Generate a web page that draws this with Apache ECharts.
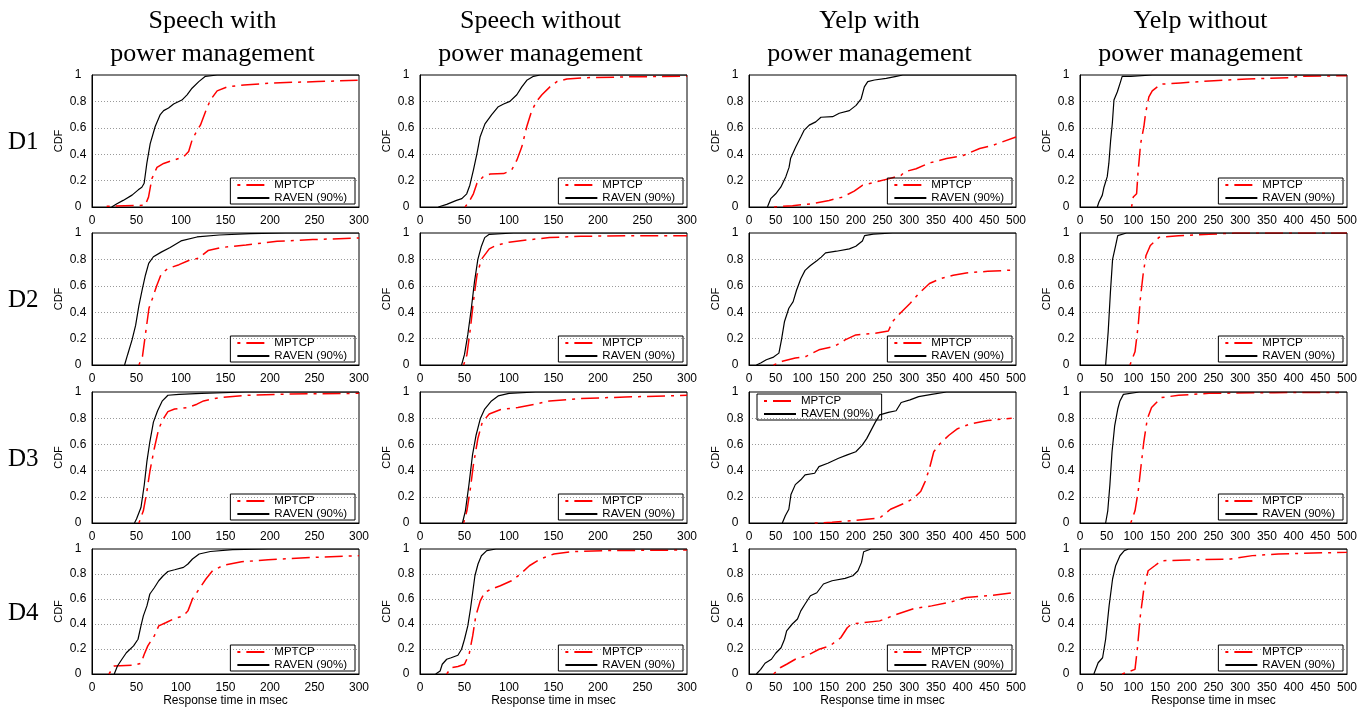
<!DOCTYPE html>
<html><head><meta charset="utf-8">
<script src="https://cdn.jsdelivr.net/npm/echarts@6/dist/echarts.min.js"></script>
<style>html,body{margin:0;padding:0;background:#fff}#c{width:1368px;height:708px}</style>
</head><body><div id="c"></div><script>
// ---- categories / labels ----
const colTitles = ['Speech with\npower management', 'Speech without\npower management', 'Yelp with\npower management', 'Yelp without\npower management'];
const rowLabels = ['D1', 'D2', 'D3', 'D4'];
const seriesNames = ['MPTCP', 'RAVEN (90%)'];
const xMax = [300, 300, 500, 500];
const xTickStep = 50;
const yTickStep = 0.2;
const xAxisTitle = 'Response time in msec';
const yAxisTitle = 'CDF';

// ---- data: [response time (ms), CDF] ----
// Speech with power management
const spD1_mptcp = [[16.5,0.005],[59.8,0.013],[63.5,0.075],[67.3,0.215],[73,0.30],[80.5,0.33],[91.7,0.355],[103,0.38],[108.6,0.42],[112.4,0.506],[118,0.58],[121.8,0.62],[127.4,0.72],[133,0.81],[140.6,0.88],[151.9,0.91],[170.7,0.925],[204.5,0.94],[253.4,0.95],[298.5,0.96]];
const spD1_raven = [[22,0],[28,0.025],[35,0.05],[45,0.09],[52,0.13],[56,0.15],[58.6,0.18],[61.6,0.33],[65.4,0.48],[71,0.61],[76.7,0.70],[80.5,0.73],[86,0.75],[91.7,0.78],[101,0.81],[106.8,0.85],[112.4,0.90],[120,0.95],[127.4,0.99],[140.6,1],[300,1]];
const spD2_mptcp = [[52.7,0],[56.7,0.065],[60,0.23],[64,0.43],[67.7,0.50],[72.7,0.60],[77.8,0.69],[85,0.73],[97.8,0.76],[108,0.79],[120,0.81],[125.4,0.84],[130.4,0.867],[145.5,0.89],[173,0.91],[208,0.937],[248,0.95],[300,0.962]];
const spD2_raven = [[36.6,0],[40,0.078],[45,0.19],[49,0.30],[52.7,0.45],[56.7,0.58],[60,0.68],[63.7,0.77],[69,0.82],[77.8,0.855],[87.8,0.89],[100,0.94],[118,0.97],[143,0.985],[178,0.995],[218,1],[300,1]];
const spD3_mptcp = [[52.7,0],[57.7,0.093],[61.7,0.243],[65,0.393],[70,0.569],[75,0.72],[80,0.794],[85.3,0.85],[92.8,0.87],[107.8,0.882],[117.9,0.907],[125.4,0.932],[143,0.957],[173,0.975],[223,0.985],[300,0.99]];
const spD3_raven = [[47.7,0],[50,0.03],[55,0.118],[58.7,0.29],[61.7,0.47],[65,0.62],[69,0.77],[73.7,0.857],[78.8,0.93],[85.3,0.975],[97.8,0.982],[123,0.99],[173,1],[300,1]];
const spD4_mptcp = [[19,0],[25,0.064],[47.7,0.07],[55,0.086],[58.7,0.158],[62.7,0.225],[70,0.305],[75,0.385],[82.8,0.41],[92.8,0.444],[102.8,0.465],[107.8,0.505],[112.9,0.60],[120.4,0.68],[128,0.76],[135.4,0.826],[148,0.87],[168,0.898],[198,0.914],[248,0.933],[300,0.947]];
const spD4_raven = [[25,0],[28.6,0.064],[33.6,0.118],[38.6,0.17],[46.7,0.225],[51.7,0.278],[55,0.385],[57.7,0.465],[61.7,0.545],[65,0.64],[70,0.69],[75,0.746],[80,0.786],[85.3,0.82],[92.8,0.834],[102.8,0.853],[107.8,0.88],[112.9,0.92],[120.4,0.96],[133,0.98],[158,0.995],[198,1],[300,1]];
// Speech without power management
const snD1_mptcp = [[50.6,0],[56,0.05],[60,0.10],[64,0.18],[71,0.23],[79,0.25],[94,0.253],[103,0.28],[108.8,0.355],[114.4,0.456],[120,0.61],[125.6,0.73],[131,0.80],[137,0.85],[146,0.91],[153.8,0.95],[165,0.97],[187.5,0.98],[243.8,0.987],[300,0.99]];
const snD1_raven = [[20.6,0],[30,0.02],[41,0.05],[47,0.063],[52.5,0.10],[56,0.165],[60,0.28],[64,0.405],[67.5,0.53],[73,0.63],[80.6,0.70],[88,0.76],[94,0.78],[101,0.80],[108.8,0.85],[114.4,0.91],[120,0.96],[127.5,0.99],[135,1],[300,1]];
const snD2_mptcp = [[49,0],[52.7,0.078],[56.7,0.28],[60,0.48],[64,0.68],[69,0.80],[77.8,0.88],[85,0.905],[100,0.93],[120,0.947],[145.5,0.965],[180.6,0.975],[230.8,0.98],[300,0.98]];
const snD2_raven = [[46.7,0],[50,0.08],[53.7,0.23],[57.7,0.43],[61.2,0.63],[65,0.80],[69,0.90],[72.7,0.965],[77.8,0.99],[105,1],[300,1]];
const snD3_mptcp = [[49,0],[52.7,0.093],[56.7,0.268],[60,0.443],[65,0.644],[70,0.77],[77.8,0.832],[90,0.865],[110,0.882],[130,0.907],[145.5,0.932],[180.6,0.95],[230.8,0.962],[300,0.975]];
const snD3_raven = [[47.7,0],[51,0.093],[55,0.293],[59,0.52],[63,0.67],[67.7,0.795],[72.7,0.87],[80.3,0.932],[87.8,0.97],[100,0.99],[130,1],[300,1]];
const snD4_mptcp = [[30,0],[35,0.05],[42.6,0.06],[50,0.078],[55.2,0.158],[59.2,0.305],[62.7,0.465],[67.7,0.585],[72.7,0.652],[80.3,0.68],[90.3,0.706],[102.8,0.746],[112.9,0.80],[122.9,0.866],[135.4,0.92],[150.5,0.96],[170.6,0.979],[205.7,0.987],[300,0.992]];
const snD4_raven = [[17.6,0],[22.6,0.024],[25,0.078],[30,0.118],[35,0.13],[42.6,0.15],[46.7,0.198],[50,0.278],[53.7,0.385],[56.7,0.52],[59.2,0.652],[61.7,0.786],[65.2,0.88],[69,0.946],[75,0.987],[85.3,1],[300,1]];
// Yelp with power management
const ypD1_mptcp = [[47,0],[81.5,0.01],[119,0.025],[150,0.05],[175,0.075],[197,0.12],[213,0.165],[238,0.19],[263,0.215],[285,0.24],[291,0.266],[313,0.29],[338,0.334],[370,0.367],[401,0.39],[432,0.443],[457,0.468],[500,0.53]];
const ypD1_raven = [[34.5,0],[40.7,0.063],[50,0.10],[59.5,0.15],[69,0.23],[75,0.30],[78,0.37],[87.7,0.456],[97,0.53],[103,0.58],[112.8,0.62],[125,0.645],[134.7,0.68],[156.6,0.684],[169,0.71],[188,0.73],[200.5,0.77],[210,0.82],[216,0.91],[222.4,0.95],[235,0.962],[257,0.975],[275.7,0.99],[288,1],[500,1]];
const ypD2_mptcp = [[46,0],[62.4,0.028],[86.7,0.053],[107,0.065],[131,0.115],[159.6,0.14],[180,0.19],[200,0.228],[236.6,0.24],[261,0.258],[269,0.33],[285,0.40],[301.5,0.466],[317.7,0.54],[338,0.617],[358,0.654],[382.5,0.68],[406.8,0.697],[447,0.71],[500,0.72]];
const ypD2_raven = [[13.8,0],[21.9,0.015],[32.4,0.04],[46,0.06],[56,0.09],[60.8,0.19],[66.5,0.33],[74.6,0.43],[82.7,0.48],[89,0.566],[97,0.654],[105,0.717],[115,0.754],[127,0.79],[135.3,0.817],[143.4,0.85],[163.7,0.862],[188,0.88],[200,0.90],[212.3,0.94],[216.4,0.98],[232.6,0.992],[269,1],[500,1]];
const ypD3_mptcp = [[123,0],[155.6,0.005],[192,0.018],[244.7,0.038],[265,0.105],[293.4,0.155],[309.6,0.193],[321.8,0.243],[330,0.318],[338,0.418],[346,0.544],[358,0.607],[374.4,0.67],[390.6,0.72],[415,0.757],[447,0.782],[492,0.80]];
const ypD3_raven = [[62.4,0],[68,0.055],[74.6,0.105],[78.6,0.218],[86.7,0.293],[97,0.33],[105,0.368],[123,0.38],[131,0.43],[147.5,0.456],[167.7,0.494],[184,0.52],[200,0.544],[212,0.594],[220.4,0.644],[228.5,0.707],[236.6,0.77],[244.7,0.825],[261,0.845],[275.5,0.857],[285,0.92],[301.5,0.94],[317.7,0.965],[342,0.982],[370,1],[500,1]];
const ypD4_mptcp = [[46,0],[58.3,0.05],[70.5,0.078],[86.7,0.118],[107,0.144],[131.3,0.198],[151.5,0.225],[171.8,0.29],[184,0.37],[192,0.40],[212.3,0.41],[244.7,0.425],[277,0.478],[309.6,0.524],[342,0.545],[374.4,0.572],[406.8,0.612],[455.4,0.63],[500,0.652]];
const ypD4_raven = [[13.8,0],[21.9,0.037],[30,0.086],[42,0.118],[50,0.166],[60,0.21],[66.5,0.278],[70.5,0.345],[81,0.40],[90.8,0.44],[97,0.505],[105,0.56],[115,0.626],[127,0.65],[139.4,0.72],[155.6,0.746],[180,0.765],[194.5,0.786],[204,0.826],[210.7,0.893],[214.7,0.978],[228.5,1],[500,1]];
// Yelp without power management
const ynD1_mptcp = [[96.6,0],[99.8,0.076],[106,0.10],[108.5,0.253],[113.5,0.48],[119.7,0.61],[122.8,0.71],[129,0.835],[135.3,0.88],[150.9,0.93],[188,0.94],[250.6,0.957],[313,0.97],[394,0.98],[409.6,0.99],[500,0.995]];
const ynD1_raven = [[32.4,0],[35.5,0.038],[41.8,0.09],[44.9,0.15],[51,0.23],[54,0.33],[57.4,0.506],[60.5,0.633],[63.6,0.81],[70,0.873],[76,0.95],[79,0.99],[95,0.99],[135,1],[500,1]];
const ynD2_mptcp = [[93.5,0],[103,0.10],[109,0.30],[113,0.50],[118,0.68],[123.6,0.83],[131.7,0.905],[148,0.967],[184.6,0.98],[241.5,0.99],[290,1],[500,1]];
const ynD2_raven = [[48,0],[52.8,0.253],[57,0.554],[61,0.80],[66.7,0.905],[70.7,0.98],[87,1],[500,1]];
const ynD3_mptcp = [[95,0],[103,0.093],[109,0.243],[113.8,0.418],[119.5,0.62],[126,0.794],[134,0.882],[152,0.957],[184.6,0.975],[241.5,0.99],[363.4,0.995],[485,0.997]];
const ynD3_raven = [[48,0],[52,0.093],[56,0.293],[60,0.544],[65,0.744],[70.7,0.87],[74.8,0.932],[81.3,0.982],[111,1],[500,1]];
const ynD4_mptcp = [[78.9,0],[103,0.037],[107.3,0.198],[113,0.465],[119.5,0.68],[127.6,0.826],[140,0.866],[152,0.906],[200.8,0.912],[282,0.92],[322.8,0.947],[371.5,0.96],[436.6,0.968],[500,0.973]];
const ynD4_raven = [[26,0],[34,0.09],[42.3,0.13],[48,0.278],[54.5,0.545],[61,0.76],[66.7,0.866],[74.8,0.946],[83,0.987],[91,1],[500,1]];

const panelData = [
  [[spD1_mptcp, spD1_raven], [snD1_mptcp, snD1_raven], [ypD1_mptcp, ypD1_raven], [ynD1_mptcp, ynD1_raven]],
  [[spD2_mptcp, spD2_raven], [snD2_mptcp, snD2_raven], [ypD2_mptcp, ypD2_raven], [ynD2_mptcp, ynD2_raven]],
  [[spD3_mptcp, spD3_raven], [snD3_mptcp, snD3_raven], [ypD3_mptcp, ypD3_raven], [ynD3_mptcp, ynD3_raven]],
  [[spD4_mptcp, spD4_raven], [snD4_mptcp, snD4_raven], [ypD4_mptcp, ypD4_raven], [ynD4_mptcp, ynD4_raven]]
];

// ---- layout & style ----
const W = 1368, H = 708;
const colLeft = [92, 420, 749, 1080], colW = 267;
const rowTop = [75, 233, 392, 549], rowH = [132, 132, 131, 125];
const SANS = 'Liberation Sans, Arial, sans-serif';
const SERIF = 'Liberation Serif, Times New Roman, serif';
const styles = [
  { color: '#ff0000', width: 1.5, type: [18, 6, 3, 6], dashOffset: 24, z: 3 },
  { color: '#000000', width: 1.2, type: 'solid', dashOffset: 0, z: 4 }
];

const grids = [], xAxes = [], yAxes = [], series = [], legends = [], titles = [];
for (let c = 0; c < 4; c++) {
  titles.push({
    text: colTitles[c], left: colLeft[c] + colW / 2 - 13, top: 5, textAlign: 'center', padding: 0,
    textStyle: { fontFamily: SERIF, fontSize: 26, fontWeight: 'normal', lineHeight: 33, color: '#000' }
  });
}
for (let r = 0; r < 4; r++) {
  titles.push({
    text: rowLabels[r], left: 8, top: rowTop[r] + rowH[r] / 2 - 11, padding: 0,
    textStyle: { fontFamily: SERIF, fontSize: 25, fontWeight: 'normal', color: '#000' }
  });
  for (let c = 0; c < 4; c++) {
    const idx = r * 4 + c;
    grids.push({ left: colLeft[c], top: rowTop[r], width: colW, height: rowH[r], show: true,
      borderColor: '#000', borderWidth: 1, backgroundColor: 'transparent', containLabel: false, outerBoundsMode: 'none' });
    xAxes.push({
      type: 'value', gridIndex: idx, min: 0, max: xMax[c], interval: xTickStep,
      axisLine: { show: true, onZero: false, lineStyle: { color: '#000', width: 1 } },
      axisTick: { show: false }, splitLine: { show: false },
      axisLabel: { color: '#000', fontSize: 12, fontFamily: SANS, margin: 8, showMinLabel: true, showMaxLabel: true },
      name: r === 3 ? xAxisTitle : '', nameLocation: 'middle', nameGap: 21,
      nameTextStyle: { color: '#000', fontSize: 12, fontFamily: SANS }
    });
    yAxes.push({
      type: 'value', gridIndex: idx, min: 0, max: 1, interval: yTickStep,
      axisLine: { show: true, onZero: false, lineStyle: { color: '#000', width: 1 } },
      axisTick: { show: false },
      splitLine: { show: true, showMinLine: false, showMaxLine: false, lineStyle: { color: '#9a9a9a', width: 1, type: [1, 2] } },
      axisLabel: { color: '#000', fontSize: 12, fontFamily: SANS, margin: 14, align: 'center' },
      name: yAxisTitle, nameLocation: 'middle', nameGap: 28, nameRotate: 90,
      nameTextStyle: { color: '#000', fontSize: 11, fontFamily: SANS }
    });
    for (let s = 0; s < 2; s++) {
      const st = styles[s];
      series.push({
        type: 'line', name: seriesNames[s], xAxisIndex: idx, yAxisIndex: idx,
        data: panelData[r][c][s], showSymbol: false, symbol: 'none', animation: false, silent: true, z: st.z,
        lineStyle: { color: st.color, width: st.width, type: st.type, dashOffset: st.dashOffset },
        itemStyle: { color: st.color }
      });
    }
    const plotRight = colLeft[c] + colW, plotBottom = rowTop[r] + rowH[r];
    const lg = {
      data: seriesNames, orient: 'vertical', itemWidth: 32, itemHeight: 8, itemGap: 1,
      padding: [1, 8, 0, 6], borderColor: '#000', borderWidth: 1, borderRadius: 0,
      selectedMode: false, backgroundColor: 'transparent',
      itemStyle: { opacity: 0, borderWidth: 0 },
      textStyle: { fontSize: 11.5, fontFamily: SANS, color: '#000', lineHeight: 12 }
    };
    if (r === 2 && c === 2) { lg.left = colLeft[c] + 8; lg.top = rowTop[r] + 2; }
    else { lg.right = W - plotRight + 4; lg.bottom = H - plotBottom + 3; }
    legends.push(lg);
  }
}

const chart = echarts.init(document.getElementById('c'), null, { renderer: 'canvas', width: W, height: H });
chart.setOption({
  backgroundColor: '#fff', animation: false,
  title: titles, grid: grids, xAxis: xAxes, yAxis: yAxes, legend: legends, series: series
});
</script></body></html>
